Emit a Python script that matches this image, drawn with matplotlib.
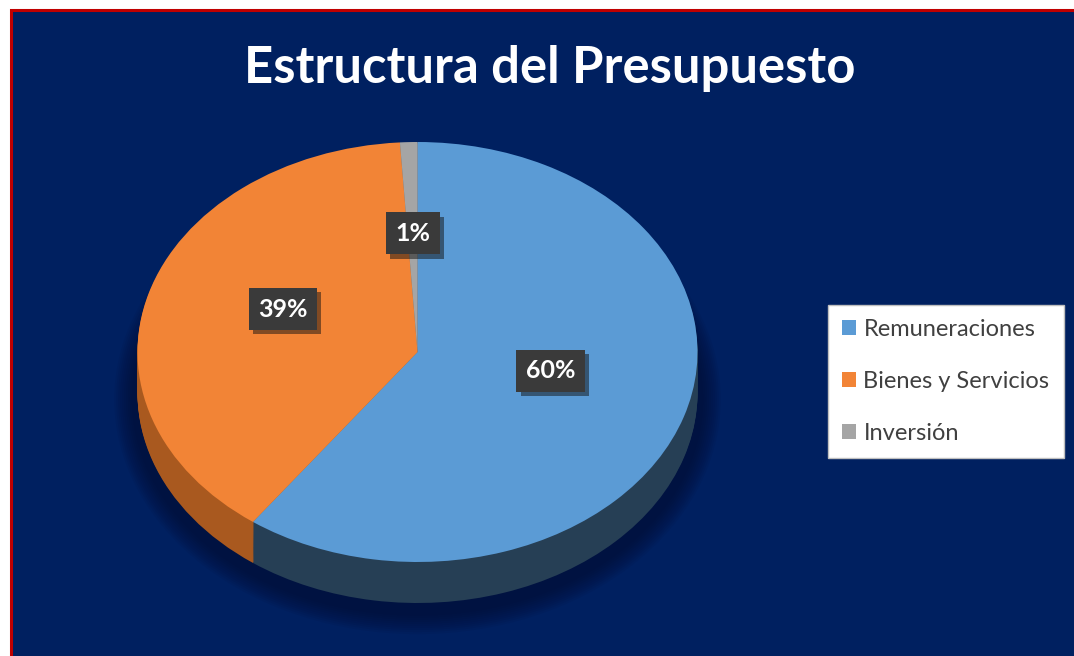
import matplotlib
matplotlib.use("Agg")
import matplotlib.pyplot as plt
import matplotlib.patheffects as pe
from matplotlib.patches import Patch, Rectangle, Ellipse

plt.rcParams["font.family"] = ["Lato", "DejaVu Sans"]

# ---------------------------------------------------------------------------
# Data
# ---------------------------------------------------------------------------
categories = ["Remuneraciones", "Bienes y Servicios", "Inversión"]
shares = [60, 39, 1]
title = "Estructura del Presupuesto"

top_colors = ["#5B9BD5", "#F28436", "#A5A5A5"]
side_colors = ["#263F55", "#A9591F", "#6E6E6E"]
navy = "#002060"

W, H = 1074, 656
fig = plt.figure(figsize=(W / 100, H / 100), dpi=100, facecolor="white")

# background panel with the red edge on top / left
fig.patches.append(Rectangle((10.5 / W, -0.02), 1.05, 1 - 9.5 / H + 0.02,
                             transform=fig.transFigure, facecolor=navy,
                             edgecolor="#C00000", linewidth=2.2, zorder=-10))

# axes in pixel-like units: 1 unit = 280 px across, 210 px down
cx, cy, rx, ry = 417.5, 352, 280, 210
ax = fig.add_axes([0, 0, 1, 1])
ax.patch.set_alpha(0)

depth = 41 / ry

# soft shadow under the pie
for i in range(10):
    grow = 0.014 * i
    ax.add_patch(Ellipse((0.0, -depth - 0.03), 2.04 + grow, 2.06 + grow * 1.4,
                         facecolor="#000A2A", edgecolor="none", alpha=0.07,
                         zorder=0))

# side walls: stack of offset pies
n_layers = 40
for i in range(n_layers, 0, -1):
    d = depth * i / n_layers
    ax.pie(shares, colors=side_colors, startangle=90, counterclock=False,
           center=(0, -d), wedgeprops=dict(linewidth=0, antialiased=True))

# top face
wedges, _, autotexts = ax.pie(shares, colors=top_colors, startangle=90,
                              counterclock=False, autopct="%1.0f%%",
                              pctdistance=0.5,
                              wedgeprops=dict(linewidth=0))

for t in autotexts:
    x, y = t.get_position()
    t.set_position((x, y + 0.065))
    t.set_color("white")
    t.set_fontsize(18)
    t.set_fontweight("bold")
    t.set_bbox(dict(boxstyle="square,pad=0.38", facecolor="#3A3A3A",
                    edgecolor="none"))
    t.get_bbox_patch().set_path_effects(
        [pe.SimplePatchShadow(offset=(3, -3), alpha=0.5), pe.Normal()])

ax.set_aspect("auto")
ax.set_xlim(-cx / rx, (W - cx) / rx)
ax.set_ylim(-(H - cy) / ry, cy / ry)
ax.axis("off")

fig.text(550 / W, 1 - 69 / H, title, ha="center", va="center",
         fontsize=36.5, fontweight="bold", color="white")

handles = [Patch(facecolor=c, edgecolor="none") for c in top_colors]
leg = fig.legend(handles, categories, loc="upper left",
                 bbox_to_anchor=(828 / W, 1 - 305 / H), borderaxespad=0,
                 frameon=True, fancybox=False, framealpha=1,
                 facecolor="white", edgecolor="#BFBFBF",
                 fontsize=17, labelspacing=1.3, handlelength=0.6,
                 handleheight=0.6, handletextpad=0.3, borderpad=0.6)
for txt in leg.get_texts():
    txt.set_color("#404040")

fig.savefig("out.png", dpi=100, facecolor=fig.get_facecolor())
